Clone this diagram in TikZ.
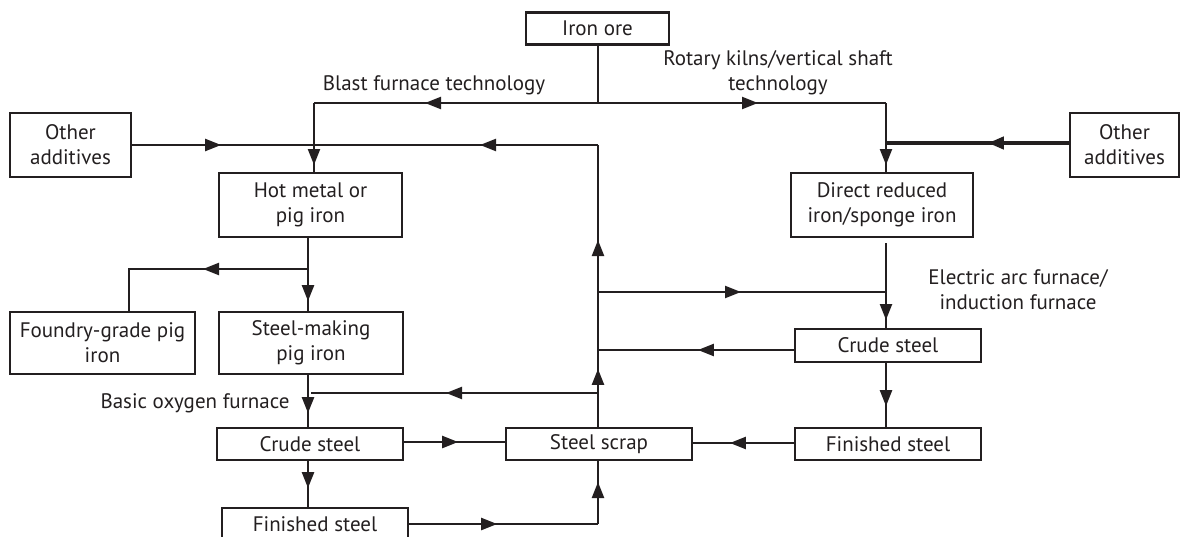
\documentclass[tikz,border=0pt]{standalone}
\usepackage{fontspec}
\setmainfont{PT Sans}
\usetikzlibrary{arrows.meta,decorations.markings}
\definecolor{ink}{HTML}{231F20}
\begin{document}
\begin{tikzpicture}[x=1pt,y=-1pt,
  txt/.style={font=\fontsize{21}{25}\selectfont, text=ink},
  box/.style={txt, draw=ink, line width=2.3pt, fill=white, align=center,
    inner sep=0pt, minimum width=#1, minimum height=32pt},
  tall/.style={minimum height=64pt},
  lbl/.style={txt, align=center, inner sep=0pt},
  link/.style={draw=ink, line width=2.3pt},
  heavy/.style={draw=ink, line width=4pt},
  tipat/.style={postaction={decorate}, decoration={markings,
    mark=at position #1 with {\arrow[ink]{Triangle[length=16pt,width=12pt]}}}},
]
\useasboundingbox (0,0) rectangle (1180,536);

% boxes
\node[box=143pt] (ore) at (597.5,28.5) {Iron ore};
\node[box=121pt, tall] (addL) at (70.5,145) {Other\\additives};
\node[box=109pt, tall] (addR) at (1124.5,145) {Other\\additives};
\node[box=183pt, tall] (hot) at (310.5,205) {Hot metal or\\pig iron};
\node[box=182pt, tall] (dri) at (882,205) {Direct reduced\\iron/sponge iron};
\node[box=185pt, minimum height=62pt] (foundry) at (102.5,343) {Foundry-grade pig\\iron};
\node[box=184pt, minimum height=62pt] (smpig) at (311,343) {Steel-making\\pig iron};
\node[box=186pt] (crudeL) at (310,444) {Crude steel};
\node[box=186pt] (scrap) at (599,444) {Steel scrap};
\node[box=186pt] (finR) at (888,444) {Finished steel};
\node[box=186pt, minimum height=33pt] (crudeR) at (888,345.5) {Crude steel};
\node[box=186pt] (finL) at (315,524) {Finished steel};

% route labels
\node[lbl] (lblBF) at (434,85) {Blast furnace technology};
\node[lbl] (lblRK) at (778,73) {Rotary kilns/vertical shaft\\technology};
\node[lbl] (lblEA) at (1018,290) {Electric arc furnace/\\induction furnace};
\node[lbl] (lblBO) at (195,403) {Basic oxygen furnace};

% junction points
\coordinate (jTop) at (598,103);
\coordinate (jBL) at (314,103);
\coordinate (jBR) at (886,103);
\coordinate (jAL) at (314,145);
\coordinate (jRise) at (598,145);
\coordinate (jAR) at (886,143);
\coordinate (jF) at (308,269);
\coordinate (jFc) at (129,269);
\coordinate (jBOF) at (598,393);
\coordinate (jBOFe) at (311,393);
\coordinate (jE1) at (598,292);
\coordinate (jE2) at (886,292);
\coordinate (jC1) at (598,350);
\coordinate (jS) at (598,524);

% iron ore split
\draw[link] (ore.south -| jTop) -- (jTop);
\draw[link, tipat=173pt] (jTop) -- (jBL);
\draw[link, tipat=62pt] (jBL) -- (jBL |- hot.north);
\draw[link, tipat=160pt] (jTop) -- (jBR);
\draw[link, tipat=62pt] (jBR) -- (jBR |- dri.north);

% additives
\draw[link, tipat=89pt] (addL.east |- jAL) -- (jAL);
\draw[heavy, tipat=81pt] (addR.west |- jAR) -- (jAR);

% blast furnace route
\draw[link, tipat=63pt] (hot.south -| jF) -- (smpig.north -| jF);
\draw[link, tipat=105pt] (jF) -- (jFc) -- (jFc |- foundry.north);
\draw[link, tipat=38pt] (smpig.south -| jF) -- (crudeL.north -| jF);
\draw[link, tipat=27pt] (crudeL.south -| jF) -- (finL.north -| jF);
\draw[link, tipat=54pt] (crudeL.east |- 0,442) -- (scrap.west |- 0,442);
\draw[link, tipat=88pt] (finL.east |- jS) -- (jS);
\draw[link, tipat=42pt] (jS) -- (scrap.south -| jS);

% scrap recycling riser
\draw[link, tipat=58pt] (scrap.north -| jS) -- (jC1);
\draw[link, tipat=110pt] (jC1) -- (jRise);
\draw[link, tipat=118pt] (jRise) -- (jAL);
\draw[link, tipat=152pt] (jBOF) -- (jBOFe);
\draw[link, tipat=143pt] (jE1) -- (jE2);

% direct reduction route
\draw[link, tipat=77pt] (jE2 |- 0,243) -- (crudeR.north -| jE2);
\draw[link, tipat=96pt] (crudeR.west |- jC1) -- (jC1);
\draw[link, tipat=43pt] (crudeR.south -| jE2) -- (finR.north -| jE2);
\draw[link, tipat=64pt] (finR.west |- 0,443) -- (scrap.east |- 0,443);
\end{tikzpicture}
\end{document}
